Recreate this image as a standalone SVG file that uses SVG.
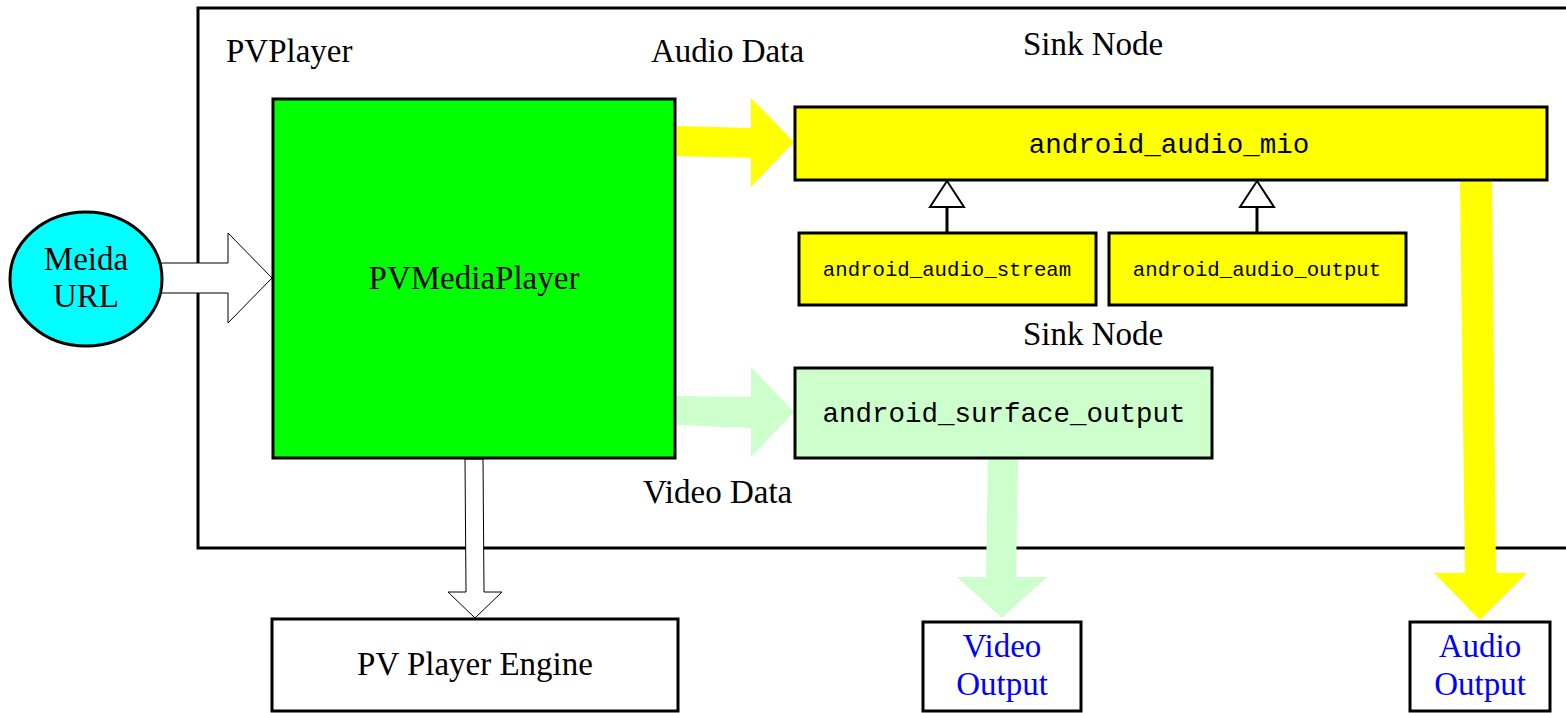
<svg xmlns="http://www.w3.org/2000/svg" width="1566" height="713" viewBox="0 0 1566 713">
<style>
.serif{font-family:"Liberation Serif","Times New Roman",serif;font-size:33px;fill:#000}
.blue{fill:#0000ff}
.mono{font-family:"Liberation Mono","Courier New",monospace;fill:#000}
.box{stroke:#000;stroke-width:3}
.hollow{fill:#fff;stroke:#000;stroke-width:1}
.gen{fill:#fff;stroke:#000;stroke-width:2}
</style>
<rect width="1566" height="713" fill="#fff"/>
<g id="pvplayer">
<rect x="198" y="8" width="1380" height="540" fill="none" stroke="#000" stroke-width="3"/>
<text class="serif" x="226" y="62">PVPlayer</text>
</g>
<g id="labels">
<text class="serif" x="651" y="62">Audio Data</text>
<text class="serif" x="1023" y="55">Sink Node</text>
<text class="serif" x="1023" y="345">Sink Node</text>
<text class="serif" x="643" y="503">Video Data</text>
</g>
<g id="connectors">
<polygon class="hollow" points="160,263 228,263 228,233 272,278 228,323 228,293 160,293"/>
<polygon fill="#ffff00" points="677,126 751,128 751,98 794,142 751,187 751,158 677,156"/>
<polygon fill="#ccffcc" points="677,396 751,397 751,367 794,412 751,457 751,428 677,425"/>
<polygon class="hollow" points="465,459 483,459 484,592 502,592 475,618 448,592 466,592"/>
<polygon fill="#ccffcc" points="988,459 1018,459 1016,577 1047,577 1002,618 957,577 986,577"/>
<polygon fill="#ffff00" points="1460,181 1492,181 1496,573 1527,573 1480,620 1434,573 1465,573"/>
<line x1="947" y1="207" x2="947" y2="232" stroke="#000" stroke-width="3"/>
<polygon class="gen" points="947,181 964,207 930,207"/>
<line x1="1257" y1="207" x2="1257" y2="232" stroke="#000" stroke-width="3"/>
<polygon class="gen" points="1257,181 1274,207 1240,207"/>
</g>
<g id="meida-url">
<ellipse cx="86" cy="279" rx="76" ry="67" fill="#00ffff" stroke="#000" stroke-width="3"/>
<text class="serif" x="86" y="270" text-anchor="middle">Meida</text>
<text class="serif" x="86" y="307" text-anchor="middle">URL</text>
</g>
<g id="pvmediaplayer">
<rect class="box" x="273" y="99" width="402" height="359" fill="#00ff00"/>
<text class="serif" x="474" y="289" text-anchor="middle">PVMediaPlayer</text>
</g>
<g id="android-audio-mio">
<rect class="box" x="795" y="107" width="752" height="73" fill="#ffff00"/>
<text class="mono" x="1169" y="153" font-size="27.5" text-anchor="middle">android_audio_mio</text>
</g>
<g id="android-audio-stream">
<rect class="box" x="799" y="233" width="297" height="72" fill="#ffff00"/>
<text class="mono" x="947" y="276" font-size="20.7" text-anchor="middle">android_audio_stream</text>
</g>
<g id="android-audio-output">
<rect class="box" x="1109" y="233" width="297" height="72" fill="#ffff00"/>
<text class="mono" x="1257" y="276" font-size="20.7" text-anchor="middle">android_audio_output</text>
</g>
<g id="android-surface-output">
<rect class="box" x="795" y="368" width="417" height="90" fill="#ccffcc"/>
<text class="mono" x="1004" y="422" font-size="27.5" text-anchor="middle">android_surface_output</text>
</g>
<g id="pv-player-engine">
<rect class="box" x="272" y="619" width="406" height="92" fill="#fff"/>
<text class="serif" x="475" y="675" text-anchor="middle">PV Player Engine</text>
</g>
<g id="video-output">
<rect class="box" x="923" y="622" width="158" height="89" fill="#fff"/>
<text class="serif blue" x="1002" y="657" text-anchor="middle">Video</text>
<text class="serif blue" x="1002" y="695" text-anchor="middle">Output</text>
</g>
<g id="audio-output">
<rect class="box" x="1410" y="622" width="140" height="89" fill="#fff"/>
<text class="serif blue" x="1480" y="657" text-anchor="middle">Audio</text>
<text class="serif blue" x="1480" y="695" text-anchor="middle">Output</text>
</g>
</svg>
